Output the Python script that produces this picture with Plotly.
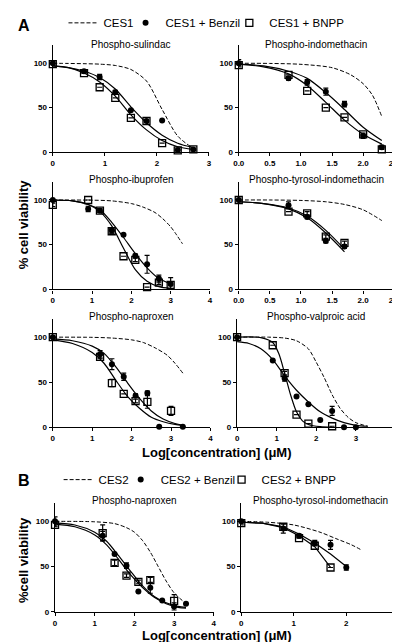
import plotly.graph_objects as go

# ---------------- data ----------------
# A1  Phospho-sulindac
SUL_X = [0, 0.6, 0.9, 1.2, 1.5, 1.8, 2.1, 2.4, 2.7]
SUL_BENZIL = [100, 91, 84.5, 67.5, 47, 35, 35.5, 2.5, 3]
SUL_BENZIL_ERR = [2, 2, 3, 2, 0, 1, 0, 0, 0]
SUL_BNPP = [99, 89, 73, 61, 38.5, 35, 10, 2, 3]
SUL_BNPP_ERR = [0, 0, 0, 0, 0, 0, 0, 0, 0]
SUL_CES_X = [0, 0.3, 0.6, 0.9, 1.2, 1.5, 1.8, 2.1, 2.4, 2.7]
SUL_CES = [100, 99.8, 99.5, 99, 97.5, 93, 80, 48, 18, 4]
SUL_FIT_X = [0, 0.3, 0.6, 0.9, 1.2, 1.5, 1.8, 2.1, 2.4, 2.7]
SUL_BENZIL_FIT = [97, 95, 91, 84, 71, 51, 33, 19, 10, 5]
SUL_BNPP_FIT = [97, 95, 89, 79, 63, 42, 25, 13, 6, 3]

# A2  Phospho-indomethacin
IND_X = [0, 0.8, 1.1, 1.4, 1.7, 2.0, 2.3]
IND_BENZIL = [100, 83, 78.5, 68, 54, 18.5, 5.5]
IND_BENZIL_ERR = [4, 2, 3, 4, 3, 3, 2]
IND_BNPP = [98, 87, 69, 50, 39, 20, 3]
IND_BNPP_ERR = [0, 0, 0, 0, 0, 0, 0]
IND_CES_X = [0, 0.5, 1.0, 1.5, 1.8, 2.0, 2.15, 2.3]
IND_CES = [100, 99.8, 98.8, 95, 87, 77, 64, 40]
IND_FIT_X = [0, 0.4, 0.8, 1.1, 1.4, 1.7, 2.0, 2.3]
IND_BENZIL_FIT = [99, 97, 91, 83, 67, 48, 28, 13]
IND_BNPP_FIT = [99, 96, 88, 75, 56, 36, 20, 9]

# A3  Phospho-ibuprofen
IBU_X = [0, 0.9, 1.2, 1.5, 1.8, 2.1, 2.4, 2.7, 3.0]
IBU_BENZIL = [100, 90, 88, 66, 61, 37.5, 28, 12, 6]
IBU_BENZIL_ERR = [0, 3, 2, 3, 0, 2, 10, 4, 2]
IBU_BNPP = [94.5, 100, 88, 65, 37, 33, 2.5, 7.5, 5]
IBU_BNPP_ERR = [2, 0, 2, 2, 0, 2, 0, 2, 8]
IBU_CES_X = [0, 1.0, 1.5, 2.0, 2.3, 2.6, 2.8, 3.0, 3.15, 3.3]
IBU_CES = [100, 99.8, 99, 96, 92, 86, 79, 70, 61, 51]
IBU_FIT_X = [0, 0.5, 0.9, 1.2, 1.5, 1.8, 2.1, 2.4, 2.7, 3.0]
IBU_BENZIL_FIT = [100, 99, 95, 89, 75, 58, 40, 24, 12, 6]
IBU_BNPP_FIT = [100, 99, 95, 87, 71, 46, 22, 9, 3, 1]

# A4  Phospho-tyrosol-indomethacin
TYR_X = [0, 0.8, 1.1, 1.4, 1.7]
TYR_BENZIL = [100, 94, 81, 54, 48]
TYR_BENZIL_ERR = [0, 4, 2, 2, 2]
TYR_BNPP = [100, 87, 85, 59, 52]
TYR_BNPP_ERR = [0, 0, 2, 2, 2]
TYR_CES_X = [0, 0.5, 1.0, 1.4, 1.7, 2.0, 2.3]
TYR_CES = [100, 100, 99.5, 98, 95, 89, 77]
TYR_FIT_X = [0, 0.4, 0.8, 1.1, 1.4, 1.7]
TYR_BENZIL_FIT = [98, 96, 91, 82, 66, 45]
TYR_BNPP_FIT = [98, 96, 90, 80, 63, 42]

# A5  Phospho-naproxen (CES1)
NAP_X = [0, 1.2, 1.5, 1.8, 2.1, 2.4, 2.7, 3.0, 3.3]
NAP_BENZIL = [100, 81, 70, 56, 35, 38, 0.5, None, 0.5]
NAP_BENZIL_ERR = [0, 4, 6, 4, 2, 2, 0, 0, 0]
NAP_BNPP = [100, 78, 49, 37, 29, 28, None, 18, None]
NAP_BNPP_ERR = [0, 2, 4, 0, 2, 7, 0, 5, 0]
NAP_CES_X = [0, 1.0, 1.5, 2.0, 2.3, 2.6, 2.9, 3.1, 3.3]
NAP_CES = [100, 99.8, 99, 97, 94, 88, 80, 71, 60]
NAP_FIT_X = [0, 0.5, 1.0, 1.3, 1.6, 1.9, 2.2, 2.5, 2.8, 3.1, 3.3]
NAP_BENZIL_FIT = [98, 96, 90, 82, 67, 49, 32, 18, 9, 4, 2]
NAP_BNPP_FIT = [97, 93, 83, 71, 52, 34, 21, 11, 6, 3, 2]

# A6  Phospho-valproic acid
VAL_X = [0, 0.9, 1.2, 1.5, 1.8, 2.1, 2.4, 2.7, 3.0]
VAL_BENZIL = [100, 74, 54, 34, 25.5, 8, 18, 0, 0]
VAL_BENZIL_ERR = [0, 0, 3, 0, 0, 0, 5, 0, 0]
VAL_BNPP = [100, 91, 60, 14, 4, None, 1, None, None]
VAL_BNPP_ERR = [0, 0, 2, 0, 0, 0, 0, 0, 0]
VAL_CES_X = [0, 0.8, 1.2, 1.5, 1.8, 2.0, 2.2, 2.4, 2.6, 2.8, 3.0, 3.3]
VAL_CES = [100, 100, 99, 96, 87, 72, 55, 36, 21, 11, 5, 1]
VAL_BENZIL_FIT_X = [0, 0.3, 0.6, 0.9, 1.2, 1.5, 1.8, 2.1, 2.4, 2.7, 3.0, 3.3]
VAL_BENZIL_FIT = [95, 93, 87, 75, 57, 41, 28, 17, 10, 5, 2, 1]
VAL_BNPP_FIT_X = [0, 0.6, 0.9, 1.05, 1.2, 1.35, 1.5, 1.65, 1.8, 2.1, 2.4]
VAL_BNPP_FIT = [100, 99.5, 94, 82, 60, 36, 17, 7, 3, 0.5, 0]

# B1  Phospho-naproxen (CES2)
BNAP_X = [0, 1.2, 1.5, 1.8, 2.1, 2.4, 2.7, 3.0, 3.3]
BNAP_BENZIL = [100, 84, 64, 51, 22.5, 26.5, 12.5, 6, 9]
BNAP_BENZIL_ERR = [5, 5, 0, 3, 0, 6, 0, 4, 0]
BNAP_BNPP = [96, 87, 54, 40, 33, 35, None, 12, None]
BNAP_BNPP_ERR = [2, 9, 3, 2, 2, 3, 0, 7, 0]
BNAP_CES_X = [0, 1.0, 1.5, 1.8, 2.0, 2.2, 2.4, 2.6, 2.8, 3.0, 3.3]
BNAP_CES = [100, 99.5, 97.5, 93, 88, 79, 66, 50, 34, 21, 9]
BNAP_FIT_X = [0, 0.5, 1.0, 1.3, 1.6, 1.9, 2.2, 2.5, 2.8, 3.1, 3.3]
BNAP_BENZIL_FIT = [98, 96, 88, 78, 62, 45, 29, 17, 10, 6, 5]
BNAP_BNPP_FIT = [97, 94, 85, 74, 58, 41, 27, 16, 9, 5, 4]

# B2  Phospho-tyrosol-indomethacin (CES2)
BTYR_X = [0, 0.8, 1.1, 1.4, 1.7, 2.0]
BTYR_BENZIL = [100, 92, 84, 76, 74, 49]
BTYR_BENZIL_ERR = [2, 5, 2, 3, 5, 3]
BTYR_BNPP = [98, 94, 81.5, 73, 49, None]
BTYR_BNPP_ERR = [2, 0, 0, 0, 0, 0]
BTYR_CES_X = [0, 0.5, 1.0, 1.5, 1.8, 2.1, 2.3]
BTYR_CES = [100, 99, 96, 88, 81, 74, 68]
BTYR_BENZIL_FIT_X = [0, 0.4, 0.8, 1.1, 1.4, 1.7, 2.0]
BTYR_BENZIL_FIT = [99, 98, 94, 86, 76, 64, 50]
BTYR_BNPP_FIT_X = [0, 0.4, 0.8, 1.1, 1.4, 1.7]
BTYR_BNPP_FIT = [99, 98, 93, 84, 72, 49]

Y_TICKS = [0, 50, 100]
X_TICKS_3 = [0, 1, 2, 3]
X_TICKS_4 = [0, 1, 2, 3, 4]
X_TICKS_25 = [0, 0.5, 1.0, 1.5, 2.0, 2.5]
X_LABELS_3 = ["0", "1", "2", "3"]
X_LABELS_4 = ["0", "1", "2", "3", "4"]
X_LABELS_25 = ["0.0", "0.5", "1.0", "1.5", "2.0", "2.5"]
Y_LABELS = ["0", "50", "100"]

# ---------------- layout geometry ----------------
W, H = 400, 642
def fx(px):
    return px / W
def fy(py):
    return 1 - py / H

FONT = "Liberation Sans, Arial, sans-serif"

PANELS = [
    dict(title="Phospho-sulindac", grp="A",
         x=SUL_X, bz=SUL_BENZIL, bze=SUL_BENZIL_ERR, bn=SUL_BNPP, bne=SUL_BNPP_ERR,
         cx=SUL_CES_X, cy=SUL_CES, bzfx=SUL_FIT_X, bzf=SUL_BENZIL_FIT, bnfx=SUL_FIT_X, bnf=SUL_BNPP_FIT,
         xr=[0, 3], xt=X_TICKS_3, xl=X_LABELS_3, dx=(40, 201), dy=(33, 141.3), ty=32, shape="spline"),
    dict(title="Phospho-indomethacin", grp="A",
         x=IND_X, bz=IND_BENZIL, bze=IND_BENZIL_ERR, bn=IND_BNPP, bne=IND_BNPP_ERR,
         cx=IND_CES_X, cy=IND_CES, bzfx=IND_FIT_X, bzf=IND_BENZIL_FIT, bnfx=IND_FIT_X, bnf=IND_BNPP_FIT,
         xr=[0, 2.5], xt=X_TICKS_25, xl=X_LABELS_25, dx=(231.7, 392), dy=(33, 141.3), ty=32, shape="spline"),
    dict(title="Phospho-ibuprofen", grp="A",
         x=IBU_X, bz=IBU_BENZIL, bze=IBU_BENZIL_ERR, bn=IBU_BNPP, bne=IBU_BNPP_ERR,
         cx=IBU_CES_X, cy=IBU_CES, bzfx=IBU_FIT_X, bzf=IBU_BENZIL_FIT, bnfx=IBU_FIT_X, bnf=IBU_BNPP_FIT,
         xr=[0, 4], xt=X_TICKS_4, xl=X_LABELS_4, dx=(40, 202), dy=(171.8, 280.7), ty=169, shape="spline"),
    dict(title="Phospho-tyrosol-indomethacin", grp="A",
         x=TYR_X, bz=TYR_BENZIL, bze=TYR_BENZIL_ERR, bn=TYR_BNPP, bne=TYR_BNPP_ERR,
         cx=TYR_CES_X, cy=TYR_CES, bzfx=TYR_FIT_X, bzf=TYR_BENZIL_FIT, bnfx=TYR_FIT_X, bnf=TYR_BNPP_FIT,
         xr=[0, 2.5], xt=X_TICKS_25, xl=X_LABELS_25, dx=(231.7, 392), dy=(171.8, 280.7), ty=169, shape="spline"),
    dict(title="Phospho-naproxen", grp="A",
         x=NAP_X, bz=NAP_BENZIL, bze=NAP_BENZIL_ERR, bn=NAP_BNPP, bne=NAP_BNPP_ERR,
         cx=NAP_CES_X, cy=NAP_CES, bzfx=NAP_FIT_X, bzf=NAP_BENZIL_FIT, bnfx=NAP_FIT_X, bnf=NAP_BNPP_FIT,
         xr=[0, 4], xt=X_TICKS_4, xl=X_LABELS_4, dx=(40, 202.5), dy=(311, 420.7), ty=308, shape="spline"),
    dict(title="Phospho-valproic acid", grp="A",
         x=VAL_X, bz=VAL_BENZIL, bze=VAL_BENZIL_ERR, bn=VAL_BNPP, bne=VAL_BNPP_ERR,
         cx=VAL_CES_X, cy=VAL_CES, bzfx=VAL_BENZIL_FIT_X, bzf=VAL_BENZIL_FIT, bnfx=VAL_BNPP_FIT_X, bnf=VAL_BNPP_FIT,
         xr=[0, 4], xt=X_TICKS_4, xl=X_LABELS_4, dx=(230, 393.3), dy=(311, 420.7), ty=308, shape="spline"),
    dict(title="Phospho-naproxen", grp="B",
         x=BNAP_X, bz=BNAP_BENZIL, bze=BNAP_BENZIL_ERR, bn=BNAP_BNPP, bne=BNAP_BNPP_ERR,
         cx=BNAP_CES_X, cy=BNAP_CES, bzfx=BNAP_FIT_X, bzf=BNAP_BENZIL_FIT, bnfx=BNAP_FIT_X, bnf=BNAP_BNPP_FIT,
         xr=[0, 4], xt=X_TICKS_4, xl=X_LABELS_4, dx=(42.3, 206), dy=(498, 608.3), ty=495, shape="spline"),
    dict(title="Phospho-tyrosol-indomethacin", grp="B",
         x=BTYR_X, bz=BTYR_BENZIL, bze=BTYR_BENZIL_ERR, bn=BTYR_BNPP, bne=BTYR_BNPP_ERR,
         cx=BTYR_CES_X, cy=BTYR_CES, bzfx=BTYR_BENZIL_FIT_X, bzf=BTYR_BENZIL_FIT, bnfx=BTYR_BNPP_FIT_X, bnf=BTYR_BNPP_FIT,
         xr=[0, 3], xt=X_TICKS_3, xl=X_LABELS_3, dx=(234.3, 396.7), dy=(498, 608.3), ty=495, shape="linear"),
]

NAMES = {"A": ("CES1", "CES1 + Benzil", "CES1 + BNPP", "legend", "legend2", "legend3"),
         "B": ("CES2", "CES2 + Benzil", "CES2 + BNPP", "legend4", "legend5", "legend6")}

fig = go.Figure()
layout = {}
annotations = []
seen = set()
ERR = dict(type="data", visible=True, color="black", thickness=1.2, width=2.5)

for i, p in enumerate(PANELS):
    n = i + 1
    sfx = "" if n == 1 else str(n)
    xa, ya = "x" + sfx, "y" + sfx
    first = p["grp"] not in seen
    seen.add(p["grp"])
    nm = NAMES[p["grp"]]
    common = dict(xaxis=xa, yaxis=ya, cliponaxis=False)
    # dashed CES curve
    fig.add_trace(go.Scatter(x=p["cx"], y=p["cy"], mode="lines", name=nm[0],
                             line=dict(color="black", width=1, dash="4px,2px", shape="spline", smoothing=0.8),
                             showlegend=first, legend=nm[3], **common))
    # fitted curves
    fig.add_trace(go.Scatter(x=p["bzfx"], y=p["bzf"], mode="lines", showlegend=False,
                             line=dict(color="black", width=1.2, shape=p["shape"], smoothing=0.8), **common))
    fig.add_trace(go.Scatter(x=p["bnfx"], y=p["bnf"], mode="lines", showlegend=False,
                             line=dict(color="black", width=1.2, shape=p["shape"], smoothing=0.8), **common))
    # error bars (drawn by their own traces so the legend shows plain symbols)
    for ys, es in ((p["bn"], p["bne"]), (p["bz"], p["bze"])):
        fig.add_trace(go.Scatter(x=p["x"], y=ys, mode="markers", showlegend=False, hoverinfo="skip",
                                 marker=dict(size=1, opacity=0, color="black"),
                                 error_y=dict(array=es, **ERR), **common))
    # data points
    fig.add_trace(go.Scatter(x=p["x"], y=p["bn"], mode="markers", name=nm[2],
                             marker=dict(symbol="square-open", size=7, color="black", line=dict(width=1.3, color="black")),
                             showlegend=first, legend=nm[5], **common))
    fig.add_trace(go.Scatter(x=p["x"], y=p["bz"], mode="markers", name=nm[1],
                             marker=dict(symbol="circle", size=6, color="black"),
                             showlegend=first, legend=nm[4], **common))

    tf = dict(family=FONT, size=8, color="black", weight="bold")
    layout["xaxis" + sfx] = dict(domain=[fx(p["dx"][0]), fx(p["dx"][1])], anchor=ya, range=p["xr"],
                                 tickmode="array", tickvals=p["xt"], ticktext=p["xl"],
                                 ticks="outside", ticklen=3, tickwidth=1.2,
                                 tickcolor="black", showline=True, linewidth=1.4, linecolor="black",
                                 showgrid=False, zeroline=False, fixedrange=True, tickfont=tf)
    layout["yaxis" + sfx] = dict(domain=[fy(p["dy"][1]), fy(p["dy"][0])], anchor=xa, range=[0, 120],
                                 tickmode="array", tickvals=Y_TICKS, ticktext=Y_LABELS,
                                 ticks="outside", ticklen=3, tickwidth=1.2,
                                 tickcolor="black", showline=True, linewidth=1.4, linecolor="black",
                                 showgrid=False, zeroline=False, fixedrange=True, tickfont=tf)
    annotations.append(dict(text=p["title"], xref="paper", yref="paper",
                            x=fx((p["dx"][0] + p["dx"][1]) / 2), y=fy(p["ty"]),
                            xanchor="center", yanchor="middle", showarrow=False,
                            font=dict(family=FONT, size=10, color="black")))

# panel letters and axis titles
for txt, px, py, size, ang in [("A", 10, 13, 16, 0), ("B", 10, 475, 16, 0),
                               ("% cell viability", 10, 215, 13, -90),
                               ("%cell viability", 10, 556, 13, -90),
                               ("Log[concentration] (\u03bcM)", 209, 446, 13, 0),
                               ("Log[concentration] (\u03bcM)", 209, 632, 13, 0)]:
    annotations.append(dict(text=txt, xref="paper", yref="paper", x=fx(px), y=fy(py),
                            xanchor="center", yanchor="middle", showarrow=False, textangle=ang,
                            font=dict(family=FONT, size=size, color="black", weight="bold")))

def leg(px, py):
    return dict(x=fx(px), y=fy(py), xanchor="left", yanchor="middle", orientation="h",
                bgcolor="rgba(0,0,0,0)", borderwidth=0, itemwidth=30,
                font=dict(family=FONT, size=11.5, color="black"))

layout.update(
    legend=leg(51, 10), legend2=leg(115, 10), legend3=leg(222, 10),
    legend4=leg(46, 474), legend5=leg(110, 474), legend6=leg(214, 474),
)

fig.update_layout(width=W, height=H, autosize=False, margin=dict(l=0, r=0, t=0, b=0),
                  paper_bgcolor="white", plot_bgcolor="white",
                  annotations=annotations, **layout)

fig.write_html("out.html")
